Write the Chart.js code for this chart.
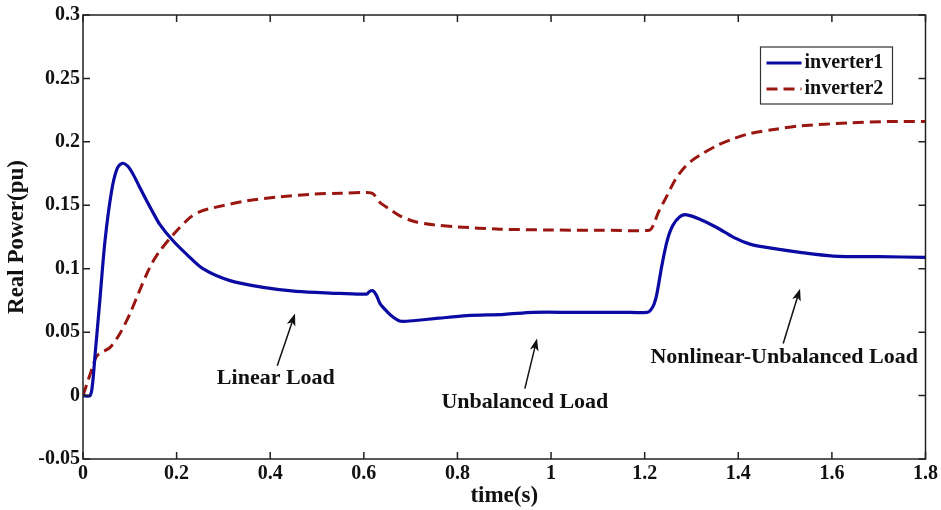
<!DOCTYPE html>
<html>
<head>
<meta charset="utf-8">
<script src="https://cdn.jsdelivr.net/npm/chart.js@4/dist/chart.umd.min.js"></script>
<style>
  body { margin: 0; background: #fff; }
  #box { width: 941px; height: 510px; }
</style>
</head>
<body>
<div id="box"><canvas id="Graphic_pw"></canvas></div>
<script>
// time axis (s) and real power (pu)
var time1 = [0, 0.015, 0.02, 0.026, 0.036, 0.047, 0.061, 0.072, 0.083, 0.095, 0.107, 0.12, 0.136, 0.15, 0.164, 0.19, 0.221, 0.257, 0.314, 0.385, 0.456, 0.528, 0.606, 0.612, 0.619, 0.627, 0.635, 0.65, 0.663, 0.675, 0.684, 0.705, 0.76, 0.82, 0.9, 0.962, 1.05, 1.15, 1.205, 1.212, 1.22, 1.226, 1.237, 1.248, 1.26, 1.275, 1.29, 1.318, 1.354, 1.39, 1.425, 1.46, 1.532, 1.603, 1.7, 1.8];
var inverter1 = [0, 0, 0.008, 0.033, 0.075, 0.122, 0.161, 0.178, 0.183, 0.181, 0.1745, 0.165, 0.1535, 0.144, 0.135, 0.123, 0.1115, 0.0998, 0.0906, 0.0853, 0.0821, 0.0808, 0.080, 0.082, 0.0827, 0.079, 0.0722, 0.066, 0.0617, 0.059, 0.0585, 0.059, 0.061, 0.063, 0.064, 0.0656, 0.0656, 0.0656, 0.0656, 0.067, 0.072, 0.08, 0.103, 0.122, 0.134, 0.141, 0.1425, 0.139, 0.1325, 0.1247, 0.1194, 0.1168, 0.1129, 0.110, 0.1095, 0.109];

var time2 = [0, 0.01, 0.02, 0.029, 0.04, 0.058, 0.079, 0.1, 0.12, 0.136, 0.15, 0.164, 0.193, 0.229, 0.25, 0.278, 0.35, 0.421, 0.492, 0.55, 0.606, 0.62, 0.635, 0.655, 0.677, 0.71, 0.748, 0.8, 0.891, 1.0, 1.1, 1.21, 1.218, 1.23, 1.247, 1.265, 1.283, 1.3, 1.318, 1.354, 1.39, 1.425, 1.48, 1.532, 1.639, 1.72, 1.8];
var inverter2 = [0, 0.011, 0.022, 0.031, 0.034, 0.038, 0.049, 0.0643, 0.082, 0.0958, 0.106, 0.114, 0.127, 0.1404, 0.145, 0.148, 0.1535, 0.1567, 0.1588, 0.1595, 0.160, 0.159, 0.152, 0.147, 0.1417, 0.137, 0.1346, 0.133, 0.1312, 0.1305, 0.1304, 0.1304, 0.134, 0.145, 0.157, 0.170, 0.179, 0.185, 0.1895, 0.197, 0.2025, 0.2065, 0.210, 0.2126, 0.215, 0.216, 0.216];

var xTicks = [0, 0.2, 0.4, 0.6, 0.8, 1, 1.2, 1.4, 1.6, 1.8];
var yTicks = [-0.05, 0, 0.05, 0.1, 0.15, 0.2, 0.25, 0.3];

// annotation labels: text, text anchor (t, P), arrow tail, arrow head
var noteText = ['Linear Load', 'Unbalanced Load', 'Nonlinear-Unbalanced Load'];
var noteAt = [[0.412, 0.0134], [0.944, -0.0055], [1.498, 0.030]];
var arrowFrom = [[0.415, 0.0236], [0.944, 0.0055], [1.496, 0.041]];
var arrowTo = [[0.453, 0.0646], [0.970, 0.0449], [1.532, 0.0843]];

var SERIF = "'Liberation Serif', 'Times New Roman', serif";
var BLUE = '#0b0ba3';
var RED = '#9a1610';

function pts(xs, ys) {
  return xs.map(function (x, i) { return {x: x, y: ys[i]}; });
}

// frame with inward ticks, annotations and boxed legend
var decor = {
  id: 'decor',
  afterDatasetsDraw: function (chart) {
    var c = chart.ctx, a = chart.chartArea;
    var xs = chart.scales.x, ys = chart.scales.y;
    c.save();
    c.strokeStyle = '#222';
    c.lineWidth = 1.5;
    c.strokeRect(a.left, a.top, a.right - a.left, a.bottom - a.top);
    c.beginPath();
    xTicks.forEach(function (t) {
      var px = xs.getPixelForValue(t);
      c.moveTo(px, a.bottom); c.lineTo(px, a.bottom - 7);
      c.moveTo(px, a.top); c.lineTo(px, a.top + 7);
    });
    yTicks.forEach(function (v) {
      var py = ys.getPixelForValue(v);
      c.moveTo(a.left, py); c.lineTo(a.left + 7, py);
      c.moveTo(a.right, py); c.lineTo(a.right - 7, py);
    });
    c.stroke();

    // annotations
    c.fillStyle = '#111';
    c.strokeStyle = '#111';
    c.font = 'bold 22px ' + SERIF;
    c.textAlign = 'center';
    c.textBaseline = 'middle';
    noteText.forEach(function (txt, i) {
      c.fillText(txt, xs.getPixelForValue(noteAt[i][0]), ys.getPixelForValue(noteAt[i][1]));
      var x0 = xs.getPixelForValue(arrowFrom[i][0]), y0 = ys.getPixelForValue(arrowFrom[i][1]);
      var x1 = xs.getPixelForValue(arrowTo[i][0]), y1 = ys.getPixelForValue(arrowTo[i][1]);
      var ang = Math.atan2(y1 - y0, x1 - x0);
      c.lineWidth = 1.5;
      c.beginPath();
      c.moveTo(x0, y0);
      c.lineTo(x1 - 8 * Math.cos(ang), y1 - 8 * Math.sin(ang));
      c.stroke();
      c.beginPath();
      c.moveTo(x1, y1);
      c.lineTo(x1 - 13 * Math.cos(ang - 0.35), y1 - 13 * Math.sin(ang - 0.35));
      c.lineTo(x1 - 9 * Math.cos(ang), y1 - 9 * Math.sin(ang));
      c.lineTo(x1 - 13 * Math.cos(ang + 0.35), y1 - 13 * Math.sin(ang + 0.35));
      c.closePath();
      c.fill();
    });

    // legend box in upper right
    var lx = a.right - 165, ly = a.top + 32, lw = 132, lh = 57;
    c.fillStyle = '#fff';
    c.fillRect(lx, ly, lw, lh);
    c.strokeStyle = '#333';
    c.lineWidth = 1.2;
    c.strokeRect(lx, ly, lw, lh);
    chart.data.datasets.forEach(function (ds, i) {
      var ry = ly + 16 + i * 26;
      c.strokeStyle = ds.borderColor;
      c.lineWidth = 3;
      c.setLineDash(ds.borderDash || []);
      c.beginPath();
      c.moveTo(lx + 6, ry); c.lineTo(lx + 41, ry);
      c.stroke();
      c.setLineDash([]);
      c.fillStyle = '#111';
      c.font = 'bold 20px ' + SERIF;
      c.textAlign = 'left';
      c.fillText(ds.label, lx + 44, ry);
    });
    c.restore();
  }
};

var ctx = document.getElementById('Graphic_pw').getContext('2d');
var powerChart = new Chart(ctx, {
  type: 'line',
  data: {
    datasets: [{
      label: 'inverter1',
      data: pts(time1, inverter1),
      borderColor: BLUE,
      borderWidth: 3.2,
      pointRadius: 0,
      fill: false,
      tension: 0.3
    }, {
      label: 'inverter2',
      data: pts(time2, inverter2),
      borderColor: RED,
      borderWidth: 3,
      borderDash: [11, 6],
      pointRadius: 0,
      fill: false,
      tension: 0.3
    }]
  },
  options: {
    responsive: true,
    maintainAspectRatio: false,
    animation: false,
    layout: { padding: { top: 14, right: 15, bottom: 0, left: 0 } },
    plugins: { legend: { display: false }, tooltip: { enabled: false } },
    scales: {
      x: {
        type: 'linear',
        min: 0, max: 1.8,
        afterFit: function (s) { s.height = 51; },
        afterBuildTicks: function (s) { s.ticks = xTicks.map(function (v) { return {value: v}; }); },
        grid: { display: false, drawTicks: false },
        border: { display: false },
        ticks: {
          padding: 3,
          color: '#111',
          font: { family: SERIF, size: 20, weight: 'bold' },
          maxRotation: 0,
          autoSkip: false,
          callback: function (v) { return String(Math.round(v * 100) / 100); }
        },
        title: {
          display: true,
          text: 'time(s)',
          color: '#111',
          font: { family: SERIF, size: 23, weight: 'bold' },
          padding: { top: 0, bottom: 0 }
        }
      },
      y: {
        min: -0.05, max: 0.3,
        afterFit: function (s) { s.width = 83; },
        afterBuildTicks: function (s) { s.ticks = yTicks.map(function (v) { return {value: v}; }); },
        grid: { display: false, drawTicks: false },
        border: { display: false },
        ticks: {
          padding: 3,
          color: '#111',
          font: { family: SERIF, size: 20, weight: 'bold' },
          autoSkip: false,
          callback: function (v) { return String(Math.round(v * 100) / 100); }
        },
        title: {
          display: true,
          text: 'Real Power(pu)',
          color: '#111',
          font: { family: SERIF, size: 23, weight: 'bold' },
          padding: { top: 3, bottom: 0 }
        }
      }
    }
  },
  plugins: [decor]
});
</script>
</body>
</html>
